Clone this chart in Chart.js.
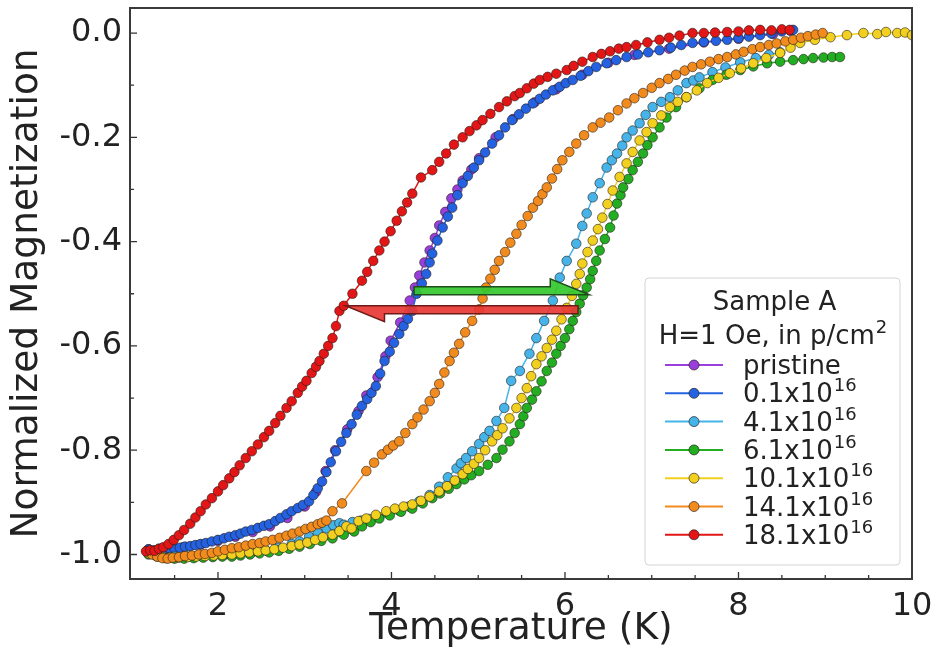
<!DOCTYPE html>
<html>
<head>
<meta charset="utf-8">
<script src="https://cdn.jsdelivr.net/npm/chart.js@4.4.1/dist/chart.umd.min.js"></script>
<style>
  body { margin: 0; background: #fff; }
  #wrap { width: 935px; height: 666px; }
</style>
</head>
<body>
<div id="wrap"><canvas id="myChart"></canvas></div>
<script>
/*------------------------------------------------------------------------------------------------*/
//datos: temperatura (K) y magnetizacion normalizada, una pareja por muestra
const tPristine = [1.20,1.40,1.60,1.80,2.00,2.20,2.40,2.60,2.80,3.00,3.13,3.24,3.35,3.49,3.62,3.71,3.84,3.93,3.99,4.10,4.21,4.27,4.32,4.38,4.44,4.50,4.55,4.62,4.69,4.76,4.82,4.92,5.01,5.20,5.40,5.65,5.90,6.20,6.50,6.80,7.20,7.60,8.00,8.40,8.60];
const mPristine = [-0.990,-0.989,-0.986,-0.981,-0.974,-0.966,-0.957,-0.946,-0.930,-0.908,-0.880,-0.840,-0.800,-0.760,-0.725,-0.695,-0.660,-0.620,-0.590,-0.555,-0.513,-0.488,-0.465,-0.440,-0.417,-0.393,-0.369,-0.343,-0.317,-0.300,-0.283,-0.262,-0.240,-0.200,-0.165,-0.133,-0.108,-0.080,-0.057,-0.042,-0.030,-0.018,-0.011,-0.002,0.004];

const t01 = [1.20,1.26,1.32,1.38,1.44,1.50,1.56,1.62,1.68,1.74,1.80,1.86,1.93,2.00,2.07,2.13,2.20,2.26,2.32,2.39,2.46,2.53,2.59,2.66,2.72,2.79,2.85,2.92,2.98,3.05,3.10,3.15,3.20,3.25,3.30,3.36,3.42,3.48,3.54,3.60,3.66,3.72,3.77,3.82,3.87,3.92,3.98,4.03,4.09,4.14,4.19,4.24,4.29,4.35,4.40,4.44,4.47,4.53,4.59,4.65,4.70,4.76,4.82,4.88,4.95,5.01,5.08,5.16,5.24,5.31,5.39,5.47,5.55,5.63,5.71,5.78,5.86,5.94,6.01,6.09,6.18,6.27,6.36,6.48,6.59,6.71,6.84,6.96,7.09,7.22,7.34,7.47,7.60,7.74,7.87,8.00,8.12,8.25,8.38,8.50,8.63];
const m01 = [-0.990,-0.992,-0.989,-0.990,-0.988,-0.989,-0.987,-0.985,-0.984,-0.982,-0.980,-0.978,-0.975,-0.972,-0.969,-0.966,-0.963,-0.960,-0.956,-0.953,-0.949,-0.945,-0.942,-0.936,-0.930,-0.923,-0.917,-0.911,-0.905,-0.898,-0.886,-0.873,-0.860,-0.842,-0.823,-0.802,-0.784,-0.767,-0.750,-0.732,-0.715,-0.702,-0.690,-0.677,-0.653,-0.629,-0.611,-0.594,-0.577,-0.562,-0.548,-0.533,-0.500,-0.480,-0.462,-0.440,-0.423,-0.398,-0.373,-0.352,-0.335,-0.311,-0.288,-0.274,-0.258,-0.244,-0.229,-0.212,-0.196,-0.181,-0.167,-0.156,-0.145,-0.135,-0.126,-0.118,-0.110,-0.103,-0.096,-0.090,-0.082,-0.073,-0.065,-0.058,-0.052,-0.046,-0.041,-0.037,-0.033,-0.028,-0.023,-0.019,-0.017,-0.015,-0.013,-0.010,-0.007,-0.004,-0.001,0.003,0.006];

const t41 = [1.20,1.35,1.50,1.65,1.80,1.95,2.10,2.25,2.40,2.55,2.70,2.85,2.94,3.05,3.15,3.25,3.33,3.40,3.45,3.55,3.65,3.74,3.85,3.97,4.09,4.20,4.32,4.44,4.55,4.65,4.75,4.80,4.86,4.93,5.01,5.07,5.13,5.21,5.30,5.38,5.48,5.59,5.67,5.76,5.86,5.94,6.02,6.13,6.20,6.25,6.32,6.40,6.48,6.54,6.60,6.66,6.71,6.78,6.86,6.93,7.01,7.11,7.21,7.30,7.40,7.48,7.55,7.70,7.85,8.02,8.20,8.35,8.48];
const m41 = [-0.998,-1.002,-1.004,-1.004,-1.003,-1.001,-0.999,-0.997,-0.995,-0.992,-0.987,-0.980,-0.975,-0.966,-0.958,-0.950,-0.944,-0.940,-0.943,-0.938,-0.935,-0.932,-0.928,-0.922,-0.916,-0.908,-0.898,-0.886,-0.870,-0.852,-0.835,-0.825,-0.815,-0.802,-0.788,-0.775,-0.763,-0.744,-0.719,-0.667,-0.648,-0.615,-0.585,-0.552,-0.513,-0.469,-0.437,-0.404,-0.370,-0.346,-0.315,-0.288,-0.258,-0.244,-0.231,-0.216,-0.200,-0.187,-0.173,-0.157,-0.142,-0.132,-0.123,-0.110,-0.096,-0.091,-0.085,-0.075,-0.066,-0.056,-0.048,-0.042,-0.037];

const t61 = [1.20,1.30,1.40,1.50,1.61,1.72,1.83,1.94,2.05,2.16,2.26,2.37,2.48,2.59,2.70,2.82,2.94,3.06,3.19,3.32,3.45,3.57,3.66,3.76,3.86,3.98,4.11,4.24,4.36,4.47,4.56,4.66,4.75,4.84,4.92,5.01,5.11,5.21,5.28,5.36,5.42,5.48,5.52,5.56,5.62,5.67,5.73,5.79,5.85,5.90,5.95,6.00,6.05,6.09,6.13,6.17,6.21,6.25,6.29,6.32,6.36,6.40,6.46,6.52,6.56,6.60,6.64,6.67,6.73,6.78,6.84,6.90,6.95,7.01,7.09,7.17,7.28,7.40,7.55,7.70,7.86,8.02,8.17,8.33,8.48,8.63,8.75,8.86,8.98,9.08,9.17];
const m61 = [-1.000,-1.004,-1.007,-1.008,-1.008,-1.007,-1.006,-1.005,-1.004,-1.004,-1.002,-1.000,-0.998,-0.996,-0.993,-0.989,-0.985,-0.980,-0.974,-0.969,-0.962,-0.956,-0.946,-0.938,-0.931,-0.925,-0.918,-0.912,-0.902,-0.892,-0.883,-0.874,-0.865,-0.856,-0.848,-0.840,-0.828,-0.815,-0.799,-0.783,-0.767,-0.750,-0.735,-0.719,-0.703,-0.687,-0.668,-0.648,-0.632,-0.615,-0.600,-0.585,-0.568,-0.552,-0.535,-0.519,-0.503,-0.488,-0.472,-0.456,-0.437,-0.417,-0.395,-0.373,-0.350,-0.327,-0.311,-0.296,-0.280,-0.263,-0.247,-0.231,-0.215,-0.200,-0.181,-0.162,-0.142,-0.123,-0.106,-0.090,-0.080,-0.071,-0.064,-0.058,-0.055,-0.052,-0.050,-0.048,-0.047,-0.046,-0.046];

const t101 = [1.20,1.28,1.36,1.45,1.55,1.65,1.75,1.85,1.95,2.05,2.16,2.26,2.36,2.46,2.55,2.65,2.75,2.85,2.94,3.03,3.12,3.21,3.32,3.40,3.48,3.54,3.62,3.71,3.82,3.94,4.04,4.14,4.24,4.34,4.44,4.55,4.64,4.73,4.82,4.88,4.95,5.01,5.08,5.16,5.22,5.28,5.36,5.44,5.50,5.56,5.61,5.67,5.73,5.79,5.85,5.90,5.96,6.02,6.08,6.13,6.17,6.20,6.26,6.32,6.38,6.43,6.49,6.55,6.63,6.71,6.78,6.86,6.94,7.01,7.11,7.21,7.30,7.40,7.52,7.64,7.77,7.90,8.03,8.17,8.32,8.48,8.60,8.71,8.88,9.06,9.25,9.44,9.60,9.70,9.83,9.92,10.00];
const m101 = [-0.998,-1.002,-1.005,-1.006,-1.006,-1.005,-1.004,-1.003,-1.002,-1.001,-1.000,-0.998,-0.996,-0.994,-0.992,-0.990,-0.987,-0.984,-0.981,-0.977,-0.972,-0.967,-0.962,-0.955,-0.946,-0.950,-0.936,-0.931,-0.924,-0.917,-0.912,-0.908,-0.904,-0.897,-0.889,-0.879,-0.869,-0.858,-0.846,-0.836,-0.826,-0.815,-0.800,-0.783,-0.771,-0.758,-0.739,-0.719,-0.700,-0.681,-0.658,-0.635,-0.620,-0.604,-0.588,-0.571,-0.549,-0.527,-0.504,-0.481,-0.462,-0.442,-0.420,-0.398,-0.376,-0.354,-0.328,-0.302,-0.276,-0.250,-0.228,-0.206,-0.190,-0.173,-0.158,-0.142,-0.132,-0.123,-0.110,-0.096,-0.086,-0.077,-0.068,-0.058,-0.048,-0.038,-0.028,-0.019,-0.013,-0.008,-0.004,0.000,-0.002,0.002,0.000,0.001,-0.004];

const t141 = [1.18,1.24,1.30,1.36,1.42,1.48,1.55,1.62,1.70,1.78,1.85,1.93,2.00,2.08,2.16,2.24,2.32,2.40,2.48,2.55,2.63,2.71,2.79,2.86,2.94,3.01,3.08,3.15,3.20,3.25,3.32,3.43,3.71,3.80,3.89,3.96,4.02,4.09,4.16,4.24,4.30,4.37,4.44,4.50,4.55,4.61,4.67,4.72,4.78,4.85,4.93,5.01,5.05,5.09,5.14,5.19,5.24,5.31,5.37,5.44,5.50,5.57,5.63,5.69,5.74,5.79,5.85,5.91,5.97,6.05,6.13,6.22,6.32,6.41,6.51,6.61,6.71,6.80,6.90,7.00,7.09,7.19,7.28,7.38,7.47,7.57,7.67,7.77,7.87,7.97,8.06,8.16,8.25,8.35,8.44,8.54,8.63,8.72,8.80,8.89,8.97];
const m141 = [-0.994,-1.000,-1.004,-1.007,-1.008,-1.006,-1.005,-1.003,-1.002,-1.000,-0.999,-0.997,-0.994,-0.991,-0.988,-0.986,-0.983,-0.980,-0.978,-0.975,-0.972,-0.968,-0.964,-0.960,-0.956,-0.951,-0.947,-0.942,-0.939,-0.935,-0.917,-0.902,-0.840,-0.824,-0.808,-0.799,-0.791,-0.783,-0.767,-0.750,-0.737,-0.722,-0.706,-0.690,-0.673,-0.651,-0.629,-0.613,-0.596,-0.574,-0.552,-0.530,-0.509,-0.488,-0.471,-0.454,-0.437,-0.420,-0.402,-0.385,-0.368,-0.351,-0.335,-0.322,-0.309,-0.296,-0.279,-0.261,-0.244,-0.228,-0.212,-0.196,-0.181,-0.172,-0.162,-0.148,-0.135,-0.125,-0.115,-0.105,-0.096,-0.088,-0.080,-0.072,-0.065,-0.060,-0.055,-0.050,-0.046,-0.041,-0.036,-0.031,-0.027,-0.023,-0.020,-0.016,-0.013,-0.009,-0.006,-0.003,0.000];

const t181 = [1.17,1.22,1.27,1.32,1.37,1.43,1.49,1.55,1.61,1.68,1.74,1.80,1.86,1.93,2.00,2.06,2.13,2.19,2.25,2.32,2.39,2.46,2.53,2.59,2.66,2.72,2.79,2.85,2.92,2.97,3.02,3.08,3.13,3.17,3.22,3.27,3.32,3.36,3.40,3.45,3.55,3.66,3.72,3.79,3.86,3.92,3.99,4.06,4.12,4.18,4.24,4.34,4.47,4.55,4.63,4.72,4.82,4.90,4.98,5.05,5.14,5.24,5.33,5.42,5.48,5.56,5.64,5.71,5.80,5.90,6.02,6.10,6.20,6.32,6.42,6.52,6.62,6.71,6.82,6.95,7.09,7.20,7.32,7.47,7.60,7.73,7.87,8.00,8.12,8.25,8.38,8.50,8.59];
const m181 = [-0.994,-0.992,-0.993,-0.989,-0.986,-0.980,-0.972,-0.963,-0.953,-0.941,-0.929,-0.917,-0.904,-0.892,-0.879,-0.867,-0.854,-0.842,-0.829,-0.815,-0.802,-0.789,-0.775,-0.763,-0.748,-0.734,-0.719,-0.706,-0.690,-0.678,-0.667,-0.652,-0.640,-0.629,-0.615,-0.600,-0.585,-0.562,-0.533,-0.523,-0.500,-0.475,-0.458,-0.437,-0.417,-0.400,-0.380,-0.360,-0.342,-0.325,-0.308,-0.277,-0.263,-0.247,-0.231,-0.214,-0.200,-0.188,-0.177,-0.167,-0.155,-0.142,-0.131,-0.121,-0.115,-0.106,-0.097,-0.090,-0.084,-0.078,-0.071,-0.063,-0.055,-0.046,-0.040,-0.035,-0.030,-0.027,-0.023,-0.018,-0.013,-0.009,-0.005,0.000,0.000,0.001,0.002,0.003,0.005,0.006,0.005,0.007,0.006];

/*------------------------------------------------------------------------------------------------*/
//nombres y colores (mismo orden que la leyenda)
const seriesNames = ['pristine', '0.1x10^16', '4.1x10^16', '6.1x10^16', '10.1x10^16', '14.1x10^16', '18.1x10^16'];
const seriesTemps = [tPristine, t01, t41, t61, t101, t141, t181];
const seriesMags = [mPristine, m01, m41, m61, m101, m141, m181];
const seriesColors = ['#9b3fdc', '#2462e2', '#46b4e8', '#22ad22', '#f1d01f', '#f28b1d', '#e21616'];

//ticks
const xTickValues = [2, 4, 6, 8, 10];
const xMinorValues = [1.5, 2.5, 3, 3.5, 4.5, 5, 5.5, 6.5, 7, 7.5, 8.5, 9, 9.5];
const yTickValues = [-1.0, -0.8, -0.6, -0.4, -0.2, 0.0];
const yMinorValues = [-0.9, -0.7, -0.5, -0.3, -0.1];

//flechas (en unidades de datos)
const arrowNotes = [
    {from: 4.26, to: 6.28, at: -0.502, side: -1, fill: 'rgba(52,200,46,0.92)', edge: '#1f4d1c'},
    {from: 6.15, to: 3.47, at: -0.523, side: 1, fill: 'rgba(232,56,52,0.92)', edge: '#6e1b18'}
];

const FONT = '"DejaVu Sans", "Liberation Sans", sans-serif';

/*------------------------------------------------------------------------------------------------*/
//datasets
const datasets = [];
for (let index = 0; index < seriesNames.length; index++) {
    const t = seriesTemps[index];
    const m = seriesMags[index];
    const n = Math.min(t.length, m.length);
    const pts = [];
    for (let k = 0; k < n; k++) pts.push({x: t[k], y: m[k]});
    datasets.push({
        label: seriesNames[index].replace('^16', '\u00b9\u2076'),
        data: pts,
        borderColor: seriesColors[index],
        backgroundColor: seriesColors[index],
        borderWidth: 1.5,
        pointRadius: 4.8,
        pointBorderWidth: 0.9,
        pointBorderColor: 'rgba(35,25,20,0.65)',
        pointBackgroundColor: seriesColors[index],
        tension: 0,
        order: seriesNames.length - index
    });
}

/*------------------------------------------------------------------------------------------------*/
//plugins: marco, ticks hacia dentro, flechas, leyenda
const frameTicks = {
    id: 'frameTicks',
    afterDraw(chart) {
        const {ctx, chartArea: a, scales: {x, y}} = chart;
        ctx.save();
        ctx.strokeStyle = '#333';
        ctx.lineWidth = 1.3;
        ctx.beginPath();
        xTickValues.forEach(v => { const p = x.getPixelForValue(v); ctx.moveTo(p, a.bottom); ctx.lineTo(p, a.bottom - 7); });
        xMinorValues.forEach(v => { const p = x.getPixelForValue(v); ctx.moveTo(p, a.bottom); ctx.lineTo(p, a.bottom - 4); });
        yTickValues.forEach(v => { const p = y.getPixelForValue(v); ctx.moveTo(a.left, p); ctx.lineTo(a.left + 7, p); });
        yMinorValues.forEach(v => { const p = y.getPixelForValue(v); ctx.moveTo(a.left, p); ctx.lineTo(a.left + 4, p); });
        ctx.stroke();
        ctx.lineWidth = 2;
        ctx.strokeStyle = '#3a3a3a';
        ctx.strokeRect(a.left, a.top, a.right - a.left, a.bottom - a.top);
        ctx.restore();
    }
};

const arrows = {
    id: 'arrows',
    afterDatasetsDraw(chart) {
        const {ctx, scales: {x, y}} = chart;
        ctx.save();
        arrowNotes.forEach(ar => {
            const x0 = x.getPixelForValue(ar.from);
            const x1 = x.getPixelForValue(ar.to);
            const yc = y.getPixelForValue(ar.at);
            const dir = Math.sign(x1 - x0);
            const sw = 8 * ar.side, hw = 16 * ar.side, hl = 39;
            ctx.beginPath();
            ctx.moveTo(x0, yc);
            ctx.lineTo(x0, yc + sw);
            ctx.lineTo(x1 - dir * hl, yc + sw);
            ctx.lineTo(x1 - dir * hl, yc + hw);
            ctx.lineTo(x1, yc);
            ctx.closePath();
            ctx.fillStyle = ar.fill;
            ctx.fill();
            ctx.lineWidth = 1.5;
            ctx.strokeStyle = ar.edge;
            ctx.stroke();
        });
        ctx.restore();
    }
};

function drawRich(ctx, text, x, y, size, align) {
    const parts = text.split('^');
    const small = Math.round(size * 0.68);
    ctx.font = size + 'px ' + FONT;
    const wb = ctx.measureText(parts[0]).width;
    ctx.font = small + 'px ' + FONT;
    const ws = parts[1] ? ctx.measureText(parts[1]).width : 0;
    const x0 = align === 'center' ? x - (wb + ws) / 2 : x;
    ctx.textAlign = 'left';
    ctx.textBaseline = 'alphabetic';
    ctx.font = size + 'px ' + FONT;
    ctx.fillText(parts[0], x0, y);
    if (parts[1]) {
        ctx.font = small + 'px ' + FONT;
        ctx.fillText(parts[1], x0 + wb + 1, y - size * 0.42);
    }
}

const legendBox = {
    id: 'legendBox',
    afterDraw(chart) {
        const {ctx, chartArea: a} = chart;
        const w = 255, h = 287;
        const bx = a.right - 12 - w, by = a.bottom - 14 - h;
        ctx.save();
        ctx.beginPath();
        ctx.roundRect(bx, by, w, h, 4);
        ctx.fillStyle = 'rgba(255,255,255,0.85)';
        ctx.fill();
        ctx.strokeStyle = '#d4d4d4';
        ctx.lineWidth = 1;
        ctx.stroke();
        ctx.fillStyle = '#222';
        drawRich(ctx, 'Sample A', bx + w / 2 + 2, by + 32, 26, 'center');
        drawRich(ctx, 'H=1 Oe, in p/cm^2', bx + w / 2, by + 66, 26, 'center');
        for (let i = 0; i < seriesNames.length; i++) {
            const cy = by + 87 + i * 28.3;
            ctx.strokeStyle = seriesColors[i];
            ctx.lineWidth = 2;
            ctx.beginPath();
            ctx.moveTo(bx + 20, cy);
            ctx.lineTo(bx + 78, cy);
            ctx.stroke();
            ctx.beginPath();
            ctx.arc(bx + 49, cy, 5, 0, Math.PI * 2);
            ctx.fillStyle = seriesColors[i];
            ctx.fill();
            ctx.lineWidth = 1;
            ctx.strokeStyle = 'rgba(35,25,20,0.65)';
            ctx.stroke();
            ctx.fillStyle = '#222';
            drawRich(ctx, seriesNames[i], bx + 98, cy + 9, 26, 'left');
        }
        ctx.restore();
    }
};

/*------------------------------------------------------------------------------------------------*/
//grafico
const ctx = document.getElementById('myChart');
const myChart = new Chart(ctx, {
    type: 'line',
    data: {datasets: datasets},
    options: {
        responsive: true,
        maintainAspectRatio: false,
        animation: false,
        devicePixelRatio: 1,
        layout: {padding: {left: 0, right: 23, top: 8, bottom: 0}},
        plugins: {
            legend: {display: false},
            tooltip: {enabled: false}
        },
        scales: {
            x: {
                type: 'linear',
                min: 0.986,
                max: 10,
                grid: {display: false, drawTicks: false},
                border: {display: false},
                ticks: {
                    font: {family: FONT, size: 32},
                    color: '#222',
                    padding: 8,
                    maxRotation: 0,
                    autoSkip: false,
                    callback: v => String(v)
                },
                afterBuildTicks: s => { s.ticks = xTickValues.map(v => ({value: v})); },
                afterFit: s => { s.height = 87; s.paddingLeft = 0; s.paddingRight = 0; },
                title: {
                    display: true,
                    text: 'Temperature (K)',
                    font: {family: FONT, size: 37.5},
                    color: '#222',
                    padding: {top: 0, bottom: 14}
                }
            },
            y: {
                type: 'linear',
                min: -1.047,
                max: 0.048,
                grid: {display: false, drawTicks: false},
                border: {display: false},
                ticks: {
                    font: {family: FONT, size: 32},
                    color: '#222',
                    padding: 8,
                    autoSkip: false,
                    callback: v => v.toFixed(1)
                },
                afterBuildTicks: s => { s.ticks = yTickValues.map(v => ({value: v})); },
                afterFit: s => { s.width = 130; s.paddingTop = 0; s.paddingBottom = 0; },
                title: {
                    display: true,
                    text: 'Normalized Magnetization',
                    font: {family: FONT, size: 37.5},
                    color: '#222',
                    padding: {top: 5, bottom: 0}
                }
            }
        }
    },
    plugins: [arrows, frameTicks, legendBox]
});
</script>
</body>
</html>
